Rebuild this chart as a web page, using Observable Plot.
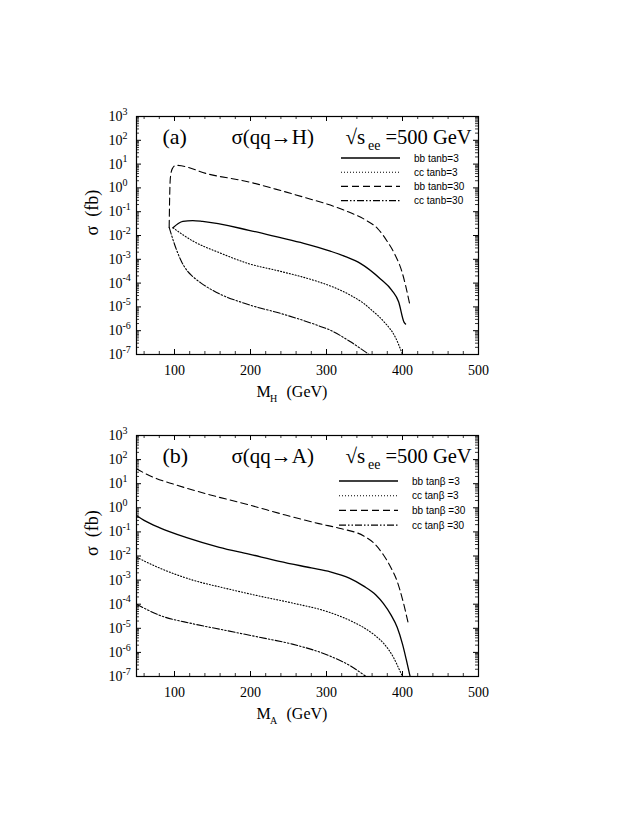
<!DOCTYPE html>
<html><head><meta charset="utf-8">
<script src="https://cdn.jsdelivr.net/npm/d3@7"></script>
<script src="https://cdn.jsdelivr.net/npm/@observablehq/plot@0.6"></script>
<style>
body{margin:0;background:#fff;}
#chart{width:623px;height:814px;position:relative;background:#fff;}
#chart svg{display:block;background:#fff;}
</style></head><body><div id="chart"></div>
<script>
// ---------- Panel (a): sigma(qq -> H) ----------
const mH_bb3  = [98, 105, 111, 124, 137, 198, 238, 270, 305, 325, 345, 371, 386, 395, 402, 404];
const sH_bb3  = [0.021, 0.032, 0.039, 0.042, 0.039, 0.0166, 0.0083, 0.0047, 0.0022, 0.0013, 6.6e-4, 1.5e-4, 5.0e-5, 1.6e-5, 2.3e-6, 1.9e-6];
const mH_cc3  = [98, 124, 159, 198, 238, 290, 305, 334, 349, 360, 375, 391, 400];
const sH_cc3  = [0.021, 5.9e-3, 1.9e-3, 6.5e-4, 3.2e-4, 1.12e-4, 7.6e-5, 2.8e-5, 1.4e-5, 7.1e-6, 2.5e-6, 5.0e-7, 1.0e-7];
const mH_bb30 = [93, 93.5, 94.5, 97, 102, 146, 198, 233, 277, 305, 325, 354, 367, 380, 390, 399, 410];
const sH_bb30 = [0.022, 0.25, 2.5, 6.3, 8.9, 3.7, 1.78, 0.89, 0.35, 0.19, 0.11, 0.040, 0.020, 5.6e-3, 1.6e-3, 3.2e-4, 1.1e-5];
const mH_cc30 = [93, 100, 109, 117, 124, 135, 150, 198, 238, 290, 305, 331, 356];
const sH_cc30 = [0.022, 4.3e-3, 8.3e-4, 3.2e-4, 1.9e-4, 1.0e-4, 5.0e-5, 1.23e-5, 5.5e-6, 1.6e-6, 1.05e-6, 3.5e-7, 1.0e-7];

// ---------- Panel (b): sigma(qq -> A) ----------
const mA_bb3  = [50, 60, 80, 115, 159, 198, 238, 280, 305, 330, 349, 365, 375, 385, 393, 400, 405, 410];
const sA_bb3  = [0.48, 0.30, 0.15, 0.059, 0.023, 0.012, 6.0e-3, 3.2e-3, 2.2e-3, 1.2e-3, 5.6e-4, 2.4e-4, 1.05e-4, 3.5e-5, 1.1e-5, 2.2e-6, 5.0e-7, 1.0e-7];
const mA_cc3  = [50, 80, 124, 168, 211, 255, 302, 334, 349, 364, 375, 388, 397, 400];
const sA_cc3  = [8.9e-3, 3.2e-3, 1.0e-3, 4.5e-4, 2.2e-4, 1.12e-4, 4.8e-5, 1.9e-5, 1.07e-5, 5.0e-6, 2.4e-6, 6.3e-7, 1.6e-7, 1.0e-7];
const mA_bb30 = [50, 60, 75, 100, 146, 198, 246, 290, 320, 349, 362, 375, 385, 393, 400, 408];
const sA_bb30 = [42, 28, 17, 9.3, 3.5, 1.32, 0.50, 0.22, 0.135, 0.068, 0.035, 0.011, 3.2e-3, 8.9e-4, 1.6e-4, 1.4e-5];
const mA_cc30 = [50, 80, 124, 168, 211, 255, 302, 331, 352];
const sA_cc30 = [1.0e-4, 3.5e-5, 1.55e-5, 8.1e-6, 4.3e-6, 2.2e-6, 7.6e-7, 2.8e-7, 1.0e-7];

const legendH = ["bb tanb=3", "cc tanb=3", "bb tanb=30", "cc tanb=30"];
const legendA = ["bb tan\u03b2 =3", "cc tan\u03b2 =3", "bb tan\u03b2 =30", "cc tan\u03b2 =30"];
const xTickLabels = [100, 200, 300, 400, 500];
const yExponents = [-7, -6, -5, -4, -3, -2, -1, 0, 1, 2, 3];

// ---------- styles ----------
const SERIF = "Liberation Serif, Times New Roman, serif";
const SANS = "Liberation Sans, Arial, sans-serif";
const styles = [
  {dash: null, width: 1.3},
  {dash: "1,2", width: 1.1},
  {dash: "7,4", width: 1.1},
  {dash: "7,2,1.5,2,1.5,2", width: 1.1}
];
const W = 623, ML = 136, MR = 145;
const innerW = W - ML - MR;

const yMajor = yExponents.map(e => Math.pow(10, e));
const yMinor = [];
yExponents.slice(0, -1).forEach(e => { for (let k = 2; k <= 9; k++) yMinor.push(k * Math.pow(10, e)); });
const xMinor = d3.range(60, 500, 20).filter(v => v % 100 !== 0);

function toRows(xs, ys) { return xs.map((m, i) => ({m, s: ys[i]})); }

function legendMark(labels, o) {
  return (index, scales, values, dim) => {
    const g = d3.create("svg:g");
    labels.forEach((lab, i) => {
      const y = dim.marginTop + o.dy0 + i * o.step;
      const st = styles[i];
      const ln = g.append("line")
        .attr("x1", dim.marginLeft + o.l0).attr("x2", dim.marginLeft + o.l1)
        .attr("y1", y).attr("y2", y)
        .attr("stroke", "#000").attr("stroke-width", st.width);
      if (st.dash) ln.attr("stroke-dasharray", st.dash);
      g.append("text").attr("x", dim.marginLeft + o.t0).attr("y", y).attr("dy", "0.35em")
        .attr("text-anchor", "start")
        .attr("font-family", SANS).attr("font-size", 10).attr("fill", "#000").text(lab);
    });
    return g.node();
  };
}

function panel(cfg) {
  const innerH = cfg.height - cfg.marginTop - cfg.marginBottom;
  const lines = cfg.series.map((sr, i) => Plot.line(toRows(sr[0], sr[1]), {
    x: "m", y: "s", stroke: "#000", strokeWidth: styles[i].width,
    strokeDasharray: styles[i].dash || undefined, curve: "monotone-x", clip: true
  }));
  return Plot.plot({
    width: W, height: cfg.height,
    marginLeft: ML, marginRight: MR, marginTop: cfg.marginTop, marginBottom: cfg.marginBottom,
    style: {background: "#fff", fontFamily: SERIF, color: "#000"},
    x: {domain: [50, 500], axis: null},
    y: {type: "log", domain: [1e-7, 1e3], axis: null},
    marks: [
      ...lines,
      Plot.frame({stroke: "#000", strokeWidth: 1.2}),
      // y ticks (inward, both sides)
      Plot.tickY(yMajor, {y: d => d, insetRight: innerW - 5, stroke: "#000", strokeWidth: 1}),
      Plot.tickY(yMajor, {y: d => d, insetLeft: innerW - 5, stroke: "#000", strokeWidth: 1}),
      Plot.tickY(yMinor, {y: d => d, insetRight: innerW - 3, stroke: "#000", strokeWidth: 0.8}),
      Plot.tickY(yMinor, {y: d => d, insetLeft: innerW - 3, stroke: "#000", strokeWidth: 0.8}),
      // x ticks (inward, top and bottom)
      Plot.tickX(xTickLabels, {x: d => d, insetTop: innerH - 5, stroke: "#000", strokeWidth: 1}),
      Plot.tickX(xTickLabels, {x: d => d, insetBottom: innerH - 5, stroke: "#000", strokeWidth: 1}),
      Plot.tickX(xMinor, {x: d => d, insetTop: innerH - 3, stroke: "#000", strokeWidth: 0.8}),
      Plot.tickX(xMinor, {x: d => d, insetBottom: innerH - 3, stroke: "#000", strokeWidth: 0.8}),
      // y tick labels 10^n
      Plot.text(yMajor, {y: d => d, text: () => "10", frameAnchor: "left", textAnchor: "start",
        dx: -28, fontSize: 14, fontFamily: SERIF, fill: "#000"}),
      Plot.text(yMajor, {y: d => d, text: d => String(Math.round(Math.log10(d))), frameAnchor: "left",
        textAnchor: "start", dx: -14, dy: -5, fontSize: 10, fontFamily: SERIF, fill: "#000"}),
      // x tick labels
      Plot.text(xTickLabels, {x: d => d, text: d => String(d), frameAnchor: "bottom", lineAnchor: "middle",
        dy: 16, fontSize: 14, fontFamily: SERIF, fill: "#000"}),
      // y axis label
      Plot.text(["\u03c3\u00a0\u00a0(fb)"], {text: d => d, frameAnchor: "left", rotate: -90, dx: -44,
        fontSize: 18, fontFamily: SERIF, fill: "#000"}),
      // x axis label M_sub (GeV)
      Plot.text(["M"], {text: d => d, frameAnchor: "bottom", textAnchor: "start", lineAnchor: "bottom",
        dx: -51, dy: 42.5, fontSize: 16, fontFamily: SERIF, fill: "#000"}),
      Plot.text([cfg.massSub], {text: d => d, frameAnchor: "bottom", textAnchor: "start", lineAnchor: "bottom",
        dx: -37.5, dy: 47.5, fontSize: 10, fontFamily: SERIF, fill: "#000"}),
      Plot.text(["(GeV)"], {text: d => d, frameAnchor: "bottom", textAnchor: "start", lineAnchor: "bottom",
        dx: -21, dy: 42.5, fontSize: 16, fontFamily: SERIF, fill: "#000"}),
      // in-panel titles
      Plot.text([cfg.letter], {text: d => d, frameAnchor: "top-left", textAnchor: "start", lineAnchor: "bottom",
        dx: 26, dy: 27, fontSize: 22, fontFamily: SERIF, fill: "#000"}),
      Plot.text([cfg.process], {text: d => d, frameAnchor: "top-left", textAnchor: "start", lineAnchor: "bottom",
        dx: 95, dy: 27, fontSize: 21, fontFamily: SERIF, fill: "#000"}),
      Plot.text(["\u221as"], {text: d => d, frameAnchor: "top-left", textAnchor: "start", lineAnchor: "bottom",
        dx: 209, dy: 27, fontSize: 21, fontFamily: SERIF, fill: "#000"}),
      Plot.text(["ee"], {text: d => d, frameAnchor: "top-left", textAnchor: "start", lineAnchor: "bottom",
        dx: 231.5, dy: 33.5, fontSize: 14, fontFamily: SERIF, fill: "#000"}),
      Plot.text(["=500 GeV"], {text: d => d, frameAnchor: "top-left", textAnchor: "start", lineAnchor: "bottom",
        dx: 249, dy: 27, fontSize: 20.5, fontFamily: SERIF, fill: "#000"}),
      legendMark(cfg.legend, cfg.legendPos)
    ]
  });
}

const chart = document.getElementById("chart");
chart.appendChild(panel({
  height: 420, marginTop: 116, marginBottom: 66,
  series: [[mH_bb3, sH_bb3], [mH_cc3, sH_cc3], [mH_bb30, sH_bb30], [mH_cc30, sH_cc30]],
  legend: legendH, legendPos: {l0: 205, l1: 264, t0: 278, dy0: 42, step: 14.2},
  letter: "(a)", process: "\u03c3(qq\u2192H)", massSub: "H"
}));
chart.appendChild(panel({
  height: 394, marginTop: 15, marginBottom: 138,
  series: [[mA_bb3, sA_bb3], [mA_cc3, sA_cc3], [mA_bb30, sA_bb30], [mA_cc30, sA_cc30]],
  legend: legendA, legendPos: {l0: 203, l1: 262, t0: 276, dy0: 46, step: 14.7},
  letter: "(b)", process: "\u03c3(qq\u2192A)", massSub: "A"
}));
</script></body></html>
